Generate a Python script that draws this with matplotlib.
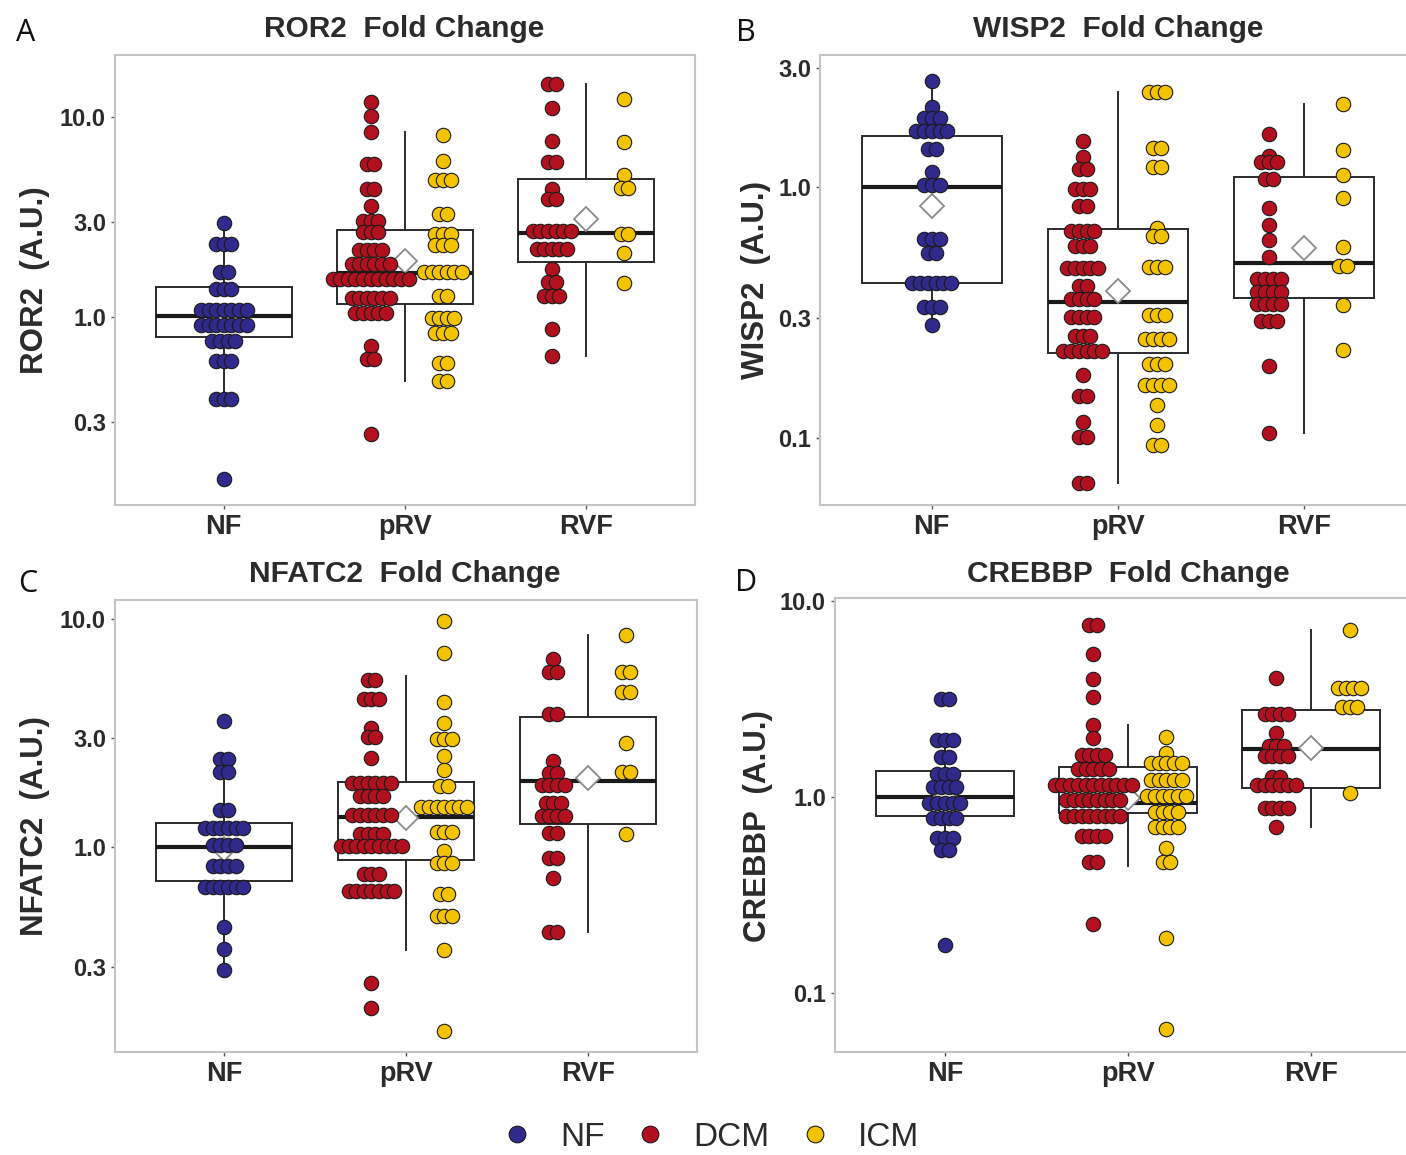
import numpy as np
import matplotlib.pyplot as plt
from matplotlib.lines import Line2D

plt.rcParams['font.family'] = ['Liberation Sans', 'DejaVu Sans']

W, H = 1406, 1155
groups = ['NF', 'pRV', 'RVF']
col_nf, col_dcm, col_icm = '#2f2a8c', '#b3101f', '#f3c300'

# ---------------- ROR2 (A) ----------------
ror2_nf_v = [2.95, 2.31, 1.68, 1.38, 1.09, 0.92, 0.76, 0.605, 0.39, 0.157]
ror2_nf_n = [1, 3, 2, 3, 7, 7, 4, 3, 3, 1]
ror2_prv_dcm_v = [11.8, 10.1, 8.4, 5.8, 4.38, 3.57, 3.03, 2.65, 2.16, 1.85, 1.56, 1.25, 1.05, 0.72, 0.62, 0.262]
ror2_prv_dcm_n = [1, 1, 1, 2, 2, 1, 3, 3, 4, 6, 11, 6, 5, 1, 2, 1]
ror2_prv_icm_v = [8.07, 6.0, 4.83, 3.27, 2.61, 2.30, 1.68, 1.28, 0.99, 0.84, 0.59, 0.48]
ror2_prv_icm_n = [1, 1, 3, 2, 3, 3, 6, 2, 4, 3, 2, 2]
ror2_rvf_dcm_v = [14.6, 11.1, 7.6, 5.96, 4.35, 3.88, 2.70, 2.18, 1.75, 1.50, 1.27, 0.87, 0.64]
ror2_rvf_dcm_n = [2, 1, 1, 2, 1, 2, 6, 5, 1, 2, 3, 1, 1]
ror2_rvf_icm_v = [12.3, 7.45, 5.15, 4.43, 2.61, 2.09, 1.49]
ror2_rvf_icm_n = [1, 1, 1, 2, 2, 1, 1]
ror2_q1 = [0.80, 1.16, 1.88]
ror2_med = [1.01, 1.66, 2.63]
ror2_q3 = [1.42, 2.71, 4.88]
ror2_lo = [0.39, 0.48, 0.64]
ror2_hi = [2.95, 8.4, 14.6]
ror2_mean = [1.0, 1.91, 3.09]

# ---------------- WISP2 (B) ----------------
wisp2_nf_v = [2.65, 2.10, 1.89, 1.68, 1.43, 1.15, 1.02, 0.62, 0.547, 0.414, 0.333, 0.283]
wisp2_nf_n = [1, 1, 3, 5, 2, 1, 3, 3, 2, 6, 3, 1]
wisp2_prv_dcm_v = [1.54, 1.32, 1.19, 0.99, 0.84, 0.673, 0.585, 0.475, 0.405, 0.358, 0.304, 0.256, 0.223,
                   0.178, 0.147, 0.116, 0.101, 0.066]
wisp2_prv_dcm_n = [1, 1, 2, 3, 2, 4, 3, 5, 2, 4, 4, 3, 6, 1, 2, 1, 2, 2]
wisp2_prv_icm_v = [2.40, 1.44, 1.21, 0.69, 0.638, 0.483, 0.31, 0.248, 0.198, 0.162, 0.136, 0.113, 0.094]
wisp2_prv_icm_n = [3, 2, 2, 1, 2, 3, 3, 4, 3, 4, 1, 1, 2]
wisp2_rvf_dcm_v = [1.63, 1.34, 1.26, 1.08, 0.83, 0.71, 0.615, 0.527, 0.43, 0.383, 0.344, 0.294, 0.193, 0.105]
wisp2_rvf_dcm_n = [1, 1, 3, 2, 1, 1, 1, 1, 4, 4, 4, 3, 1, 1]
wisp2_rvf_icm_v = [2.15, 1.41, 1.12, 0.905, 0.58, 0.487, 0.34, 0.225]
wisp2_rvf_icm_n = [1, 1, 1, 1, 1, 2, 1, 1]
wisp2_q1 = [0.416, 0.219, 0.363]
wisp2_med = [1.0, 0.348, 0.50]
wisp2_q3 = [1.61, 0.684, 1.10]
wisp2_lo = [0.283, 0.066, 0.105]
wisp2_hi = [2.65, 2.40, 2.15]
wisp2_mean = [0.84, 0.387, 0.571]

# ---------------- NFATC2 (C) ----------------
nfatc2_nf_v = [3.57, 2.44, 2.14, 1.45, 1.22, 1.02, 0.83, 0.667, 0.446, 0.359, 0.29]
nfatc2_nf_n = [1, 2, 2, 2, 6, 4, 4, 6, 1, 1, 1]
nfatc2_prv_dcm_v = [5.42, 4.46, 3.32, 3.03, 2.46, 1.92, 1.67, 1.39, 1.14, 1.01, 0.765, 0.644, 0.255, 0.197]
nfatc2_prv_dcm_n = [2, 3, 1, 2, 1, 6, 4, 6, 4, 9, 3, 7, 1, 1]
nfatc2_prv_icm_v = [9.8, 7.06, 4.34, 3.5, 2.99, 2.5, 2.17, 1.85, 1.50, 1.17, 0.96, 0.854, 0.622, 0.498,
                    0.355, 0.157]
nfatc2_prv_icm_n = [1, 1, 1, 1, 3, 1, 1, 2, 7, 3, 1, 3, 2, 3, 1, 1]
nfatc2_rvf_dcm_v = [6.67, 5.87, 3.85, 2.38, 2.11, 1.88, 1.56, 1.37, 1.16, 0.90, 0.734, 0.426]
nfatc2_rvf_dcm_n = [1, 2, 2, 1, 2, 4, 3, 4, 2, 2, 1, 2]
nfatc2_rvf_icm_v = [8.48, 5.85, 4.78, 2.87, 2.14, 1.14]
nfatc2_rvf_icm_n = [1, 2, 2, 1, 2, 1]
nfatc2_q1 = [0.71, 0.877, 1.27]
nfatc2_med = [1.0, 1.36, 1.96]
nfatc2_q3 = [1.28, 1.93, 3.73]
nfatc2_lo = [0.29, 0.355, 0.426]
nfatc2_hi = [2.44, 5.6, 8.48]
nfatc2_mean = [0.98, 1.35, 2.01]

# ---------------- CREBBP (D) ----------------
crebbp_nf_v = [3.16, 1.96, 1.60, 1.31, 1.12, 0.935, 0.78, 0.617, 0.537, 0.175]
crebbp_nf_n = [2, 3, 2, 3, 4, 5, 4, 3, 2, 1]
crebbp_prv_dcm_v = [7.55, 5.35, 4.0, 3.23, 2.33, 1.99, 1.63, 1.39, 1.15, 0.966, 0.80, 0.63, 0.463, 0.224]
crebbp_prv_dcm_n = [2, 1, 1, 1, 1, 1, 4, 5, 11, 8, 8, 4, 2, 1]
crebbp_prv_icm_v = [2.01, 1.67, 1.48, 1.22, 1.01, 0.837, 0.70, 0.547, 0.467, 0.191, 0.065]
crebbp_prv_icm_n = [1, 1, 5, 5, 6, 4, 4, 1, 2, 1, 1]
crebbp_rvf_dcm_v = [4.05, 2.65, 2.11, 1.82, 1.61, 1.26, 1.15, 0.874, 0.70]
crebbp_rvf_dcm_n = [1, 4, 1, 3, 4, 2, 6, 4, 1]
crebbp_rvf_icm_v = [7.14, 3.6, 2.87, 1.04]
crebbp_rvf_icm_n = [1, 4, 3, 1]
crebbp_q1 = [0.80, 0.83, 1.11]
crebbp_med = [1.0, 0.93, 1.76]
crebbp_q3 = [1.355, 1.42, 2.77]
crebbp_lo = [0.537, 0.445, 0.70]
crebbp_hi = [1.96, 2.33, 7.14]
crebbp_mean = [1.0, 0.99, 1.78]

STEP = 0.042      # horizontal offset between stacked dots (data units)
DODGE = (-0.19, 0.21)


def fx(x):
    return x / W


def fy(y):
    return 1 - y / H


def add_axes(fig, x0, y0, x1, y1):
    return fig.add_axes([fx(x0), fy(y1), (x1 - x0) / W, (y1 - y0) / H])


def dots(ax, x0, levels, counts, color):
    xs, ys = [], []
    for v, n in zip(levels, counts):
        for i in range(n):
            xs.append(x0 + (i - (n - 1) / 2) * STEP)
            ys.append(v)
    ax.scatter(xs, ys, s=108, c=color, edgecolors='#1a1a1a', linewidths=0.8, zorder=4)


def panel(ax, nf, pd, pi, rd, ri, q1, med, q3, lo, hi, mean, ylim, yticks):
    stats = []
    for k in range(3):
        stats.append({'q1': q1[k], 'med': med[k], 'q3': q3[k], 'whislo': lo[k],
                      'whishi': hi[k], 'mean': mean[k], 'fliers': []})
    ax.bxp(stats, positions=[1, 2, 3], widths=0.75, showcaps=False, showmeans=True,
           patch_artist=True,
           boxprops=dict(facecolor='white', edgecolor='#2b2b2b', linewidth=1.4),
           whiskerprops=dict(color='#2b2b2b', linewidth=1.4),
           medianprops=dict(color='#1a1a1a', linewidth=3.0),
           meanprops=dict(marker='D', markerfacecolor='white', markeredgecolor='#8a8a8a',
                          markeredgewidth=1.3, markersize=12.5))
    dots(ax, 1, nf[0], nf[1], col_nf)
    dots(ax, 2 + DODGE[0], pd[0], pd[1], col_dcm)
    dots(ax, 2 + DODGE[1], pi[0], pi[1], col_icm)
    dots(ax, 3 + DODGE[0], rd[0], rd[1], col_dcm)
    dots(ax, 3 + DODGE[1], ri[0], ri[1], col_icm)
    ax.set_yscale('log')
    ax.set_ylim(*ylim)
    ax.set_xlim(0.4, 3.6)
    ax.set_yticks(yticks)
    ax.set_yticklabels(['%.1f' % t for t in yticks])
    ax.yaxis.set_minor_locator(plt.NullLocator())
    ax.set_xticks([1, 2, 3])
    ax.set_xticklabels(groups)
    ax.tick_params(axis='y', length=3, width=1, color='#555555', pad=3.5, labelsize=17,
                   labelcolor='#2b2b2b')
    ax.tick_params(axis='x', length=3, width=1, color='#555555', pad=3.5, labelsize=19.5,
                   labelcolor='#2b2b2b')
    for lab in ax.get_xticklabels() + ax.get_yticklabels():
        lab.set_fontweight('bold')
    for sp in ax.spines.values():
        sp.set_color('#c4c4c4')
        sp.set_linewidth(1.5)


fig = plt.figure(figsize=(W / 100, H / 100), dpi=100)

axA = add_axes(fig, 115, 55, 695, 505)
panel(axA, (ror2_nf_v, ror2_nf_n), (ror2_prv_dcm_v, ror2_prv_dcm_n), (ror2_prv_icm_v, ror2_prv_icm_n),
      (ror2_rvf_dcm_v, ror2_rvf_dcm_n), (ror2_rvf_icm_v, ror2_rvf_icm_n),
      ror2_q1, ror2_med, ror2_q3, ror2_lo, ror2_hi, ror2_mean, (0.116, 20.3), [0.3, 1.0, 3.0, 10.0])

axB = add_axes(fig, 820, 55, 1416, 505)
panel(axB, (wisp2_nf_v, wisp2_nf_n), (wisp2_prv_dcm_v, wisp2_prv_dcm_n), (wisp2_prv_icm_v, wisp2_prv_icm_n),
      (wisp2_rvf_dcm_v, wisp2_rvf_dcm_n), (wisp2_rvf_icm_v, wisp2_rvf_icm_n),
      wisp2_q1, wisp2_med, wisp2_q3, wisp2_lo, wisp2_hi, wisp2_mean, (0.054, 3.38), [0.1, 0.3, 1.0, 3.0])

axC = add_axes(fig, 115, 600, 697, 1052)
panel(axC, (nfatc2_nf_v, nfatc2_nf_n), (nfatc2_prv_dcm_v, nfatc2_prv_dcm_n), (nfatc2_prv_icm_v, nfatc2_prv_icm_n),
      (nfatc2_rvf_dcm_v, nfatc2_rvf_dcm_n), (nfatc2_rvf_icm_v, nfatc2_rvf_icm_n),
      nfatc2_q1, nfatc2_med, nfatc2_q3, nfatc2_lo, nfatc2_hi, nfatc2_mean, (0.127, 12.1), [0.3, 1.0, 3.0, 10.0])

axD = add_axes(fig, 835, 598, 1421, 1052)
panel(axD, (crebbp_nf_v, crebbp_nf_n), (crebbp_prv_dcm_v, crebbp_prv_dcm_n), (crebbp_prv_icm_v, crebbp_prv_icm_n),
      (crebbp_rvf_dcm_v, crebbp_rvf_dcm_n), (crebbp_rvf_icm_v, crebbp_rvf_icm_n),
      crebbp_q1, crebbp_med, crebbp_q3, crebbp_lo, crebbp_hi, crebbp_mean, (0.0498, 10.35), [0.1, 1.0, 10.0])

# titles, axis labels, panel letters
tkw = dict(fontsize=21.5, fontweight='bold', color='#2b2b2b', ha='center', va='baseline')
fig.text(fx(404), fy(37), 'ROR2  Fold Change', **tkw)
fig.text(fx(1118), fy(37), 'WISP2  Fold Change', **tkw)
fig.text(fx(405), fy(582), 'NFATC2  Fold Change', **tkw)
fig.text(fx(1128), fy(582), 'CREBBP  Fold Change', **tkw)

ykw = dict(fontsize=22.5, fontweight='bold', color='#2b2b2b', ha='center', va='center', rotation=90)
fig.text(fx(35), fy(280), 'ROR2  (A.U.)', **ykw)
fig.text(fx(756), fy(280), 'WISP2  (A.U.)', **ykw)
fig.text(fx(35), fy(826), 'NFATC2  (A.U.)', **ykw)
fig.text(fx(758), fy(826), 'CREBBP  (A.U.)', **ykw)

lkw = dict(fontsize=22, family=['Open Sans', 'DejaVu Sans'], color='#111111', ha='center', va='center')
fig.text(fx(26), fy(33), 'A', **lkw)
fig.text(fx(746), fy(33), 'B', **lkw)
fig.text(fx(28), fy(584), 'C', **lkw)
fig.text(fx(746), fy(583), 'D', **lkw)

handles = [Line2D([], [], ls='none', marker='o', markersize=12, markerfacecolor=c,
                  markeredgecolor='#1a1a1a', markeredgewidth=0.8)
           for c in (col_nf, col_dcm, col_icm)]
fig.legend(handles, ['NF', 'DCM', 'ICM'], loc='center', bbox_to_anchor=(fx(710), fy(1137)),
           ncol=3, frameon=False, fontsize=24, handlelength=1.0, handletextpad=0.8,
           columnspacing=0.85, borderpad=0, labelcolor='#2b2b2b')

fig.savefig('out.png', dpi=100)
